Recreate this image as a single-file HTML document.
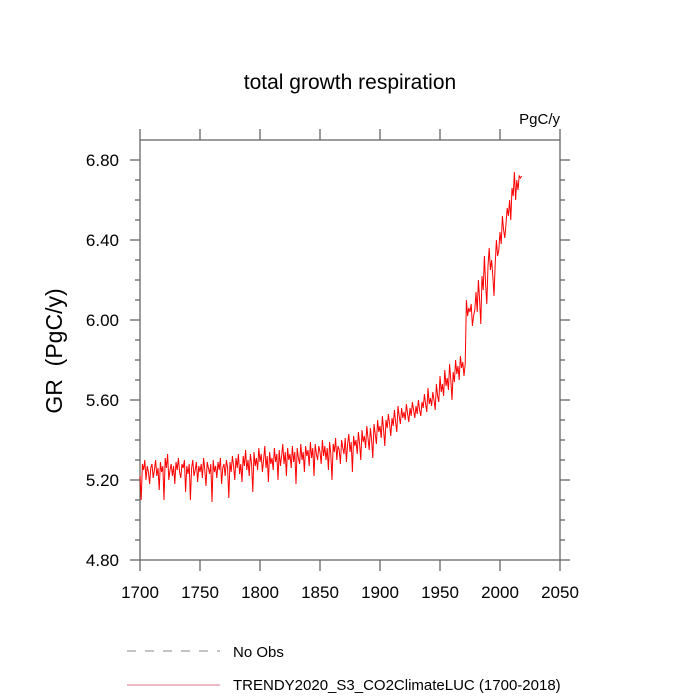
<!DOCTYPE html>
<html><head><meta charset="utf-8"><style>
body{margin:0;background:#fff}
svg{display:block;font-family:"Liberation Sans",sans-serif}
</style></head><body>
<svg id="chart" width="700" height="700">
<text x="350" y="89" text-anchor="middle" font-size="21">total growth respiration</text>
<text x="560" y="124" text-anchor="end" font-size="15">PgC/y</text>
<text transform="translate(62,351) rotate(-90)" text-anchor="middle" font-size="23" xml:space="preserve" style="white-space:pre">GR  (PgC/y)</text>
<g id="axes"></g>
<rect x="140" y="140" width="420" height="420" fill="none" stroke="#666" stroke-width="1.3"/>
<polyline id="series" fill="none" stroke="#ff0000" stroke-width="1"/>
<line x1="127" y1="651" x2="220" y2="651" stroke="#888" stroke-dasharray="9,9"/>
<text x="233" y="657" font-size="15">No Obs</text>
<line x1="127" y1="685" x2="220" y2="685" stroke="#d04060" stroke-width="0.8"/>
<text x="233" y="690" font-size="15">TRENDY2020_S3_CO2ClimateLUC (1700-2018)</text>
</svg>
<script>
const startYear = 1700;
const values = [
5.22,5.10,5.28,5.25,5.30,5.20,5.27,5.24,5.18,5.26,
5.28,5.21,5.25,5.30,5.22,5.26,5.15,5.29,5.24,5.27,
5.10,5.31,5.26,5.33,5.20,5.25,5.28,5.22,5.27,5.18,
5.29,5.25,5.31,5.24,5.21,5.28,5.26,5.30,5.14,5.27,
5.23,5.28,5.10,5.26,5.30,5.22,5.25,5.29,5.19,5.27,
5.24,5.28,5.21,5.31,5.25,5.17,5.29,5.26,5.23,5.28,
5.09,5.30,5.24,5.27,5.21,5.29,5.25,5.31,5.18,5.26,
5.28,5.22,5.30,5.26,5.11,5.29,5.24,5.32,5.27,5.20,
5.31,5.26,5.33,5.23,5.28,5.19,5.32,5.27,5.35,5.25,
5.30,5.22,5.33,5.28,5.14,5.34,5.27,5.31,5.25,5.36,
5.29,5.33,5.24,5.30,5.37,5.26,5.32,5.19,5.34,5.28,
5.31,5.25,5.36,5.29,5.33,5.20,5.35,5.27,5.32,5.38,
5.28,5.34,5.22,5.36,5.30,5.33,5.26,5.37,5.29,5.34,
5.18,5.36,5.31,5.28,5.38,5.30,5.34,5.24,5.37,5.32,
5.35,5.27,5.39,5.31,5.36,5.22,5.38,5.33,5.30,5.37,
5.34,5.28,5.40,5.32,5.37,5.30,5.36,5.25,5.39,5.33,
5.20,5.38,5.34,5.41,5.30,5.37,5.35,5.28,5.40,5.36,
5.33,5.41,5.29,5.38,5.43,5.34,5.39,5.24,5.42,5.37,
5.40,5.33,5.44,5.38,5.30,5.45,5.39,5.42,5.36,5.47,
5.41,5.35,5.46,5.40,5.31,5.48,5.43,5.38,5.50,5.44,
5.47,5.41,5.52,5.45,5.37,5.50,5.46,5.53,5.48,5.42,
5.51,5.47,5.55,5.49,5.44,5.57,5.52,5.48,5.56,5.51,
5.54,5.50,5.58,5.53,5.49,5.56,5.52,5.59,5.55,5.51,
5.57,5.53,5.60,5.55,5.52,5.59,5.56,5.63,5.58,5.54,
5.66,5.58,5.61,5.57,5.64,5.60,5.55,5.68,5.62,5.59,
5.72,5.64,5.68,5.62,5.75,5.67,5.71,5.65,5.78,5.70,
5.60,5.74,5.69,5.80,5.73,5.77,5.70,5.82,5.76,5.79,
5.72,5.78,6.10,6.02,6.06,6.04,6.08,5.97,6.02,6.05,
6.14,6.04,6.20,6.10,5.98,6.22,6.15,6.32,6.18,6.08,
6.27,6.36,6.25,6.30,6.22,6.12,6.28,6.40,6.32,6.35,
6.44,6.38,6.52,6.45,6.41,6.48,6.56,6.52,6.60,6.50,
6.66,6.62,6.74,6.60,6.70,6.65,6.72,6.71,6.72];
const xTicks = [1700,1750,1800,1850,1900,1950,2000,2050];
const yTicks = [4.8,5.2,5.6,6.0,6.4,6.8];
const yTickLabels = ["4.80","5.20","5.60","6.00","6.40","6.80"];

const X0=140,X1=560,Y0=560,Y1=140;
const YMIN=4.8,YMAX=6.9;
const xs = v => X0 + (v-1700)/(2050-1700)*(X1-X0);
const ys = v => Y0 - (v-YMIN)/(YMAX-YMIN)*(Y0-Y1);
const NS="http://www.w3.org/2000/svg";
const axes=document.getElementById('axes');
function ln(x1,y1,x2,y2,name){const l=document.createElementNS(NS,'line');
l.setAttribute('x1',x1);l.setAttribute('y1',y1);l.setAttribute('x2',x2);l.setAttribute('y2',y2);
l.setAttribute('stroke','#666');l.setAttribute('stroke-width','1.3');


axes.appendChild(l);}
function tx(x,y,s,anchor,name){const t=document.createElementNS(NS,'text');
t.setAttribute('x',x);t.setAttribute('y',y);t.setAttribute('text-anchor',anchor);t.setAttribute('font-size','17');
t.textContent=s;


axes.appendChild(t);}
xTicks.forEach(v=>{const x=xs(v);
 ln(x,Y0,x,Y0+11,'x-tick');ln(x,Y1,x,Y1-11,'x-tick-top');
 tx(x,Y0+38,String(v),'middle','x-tick-label');});
yTicks.forEach((v,i)=>{const y=ys(v);
 ln(X0,y,X0-10,y,'y-tick');ln(X1,y,X1+10,y,'y-tick-right');
 tx(X0-21,y+6,yTickLabels[i],'end','y-tick-label');});
for(let k=1;k<21;k++){if(k%4){const y=ys(YMIN+k*0.1);ln(X0,y,X0-5,y,'y-minor-tick');ln(X1,y,X1+5,y,'y-minor-tick-right');}}
document.getElementById('series').setAttribute('points',
 values.map((v,i)=>xs(startYear+i).toFixed(2)+','+ys(v).toFixed(2)).join(' '));
</script>
</body></html>
